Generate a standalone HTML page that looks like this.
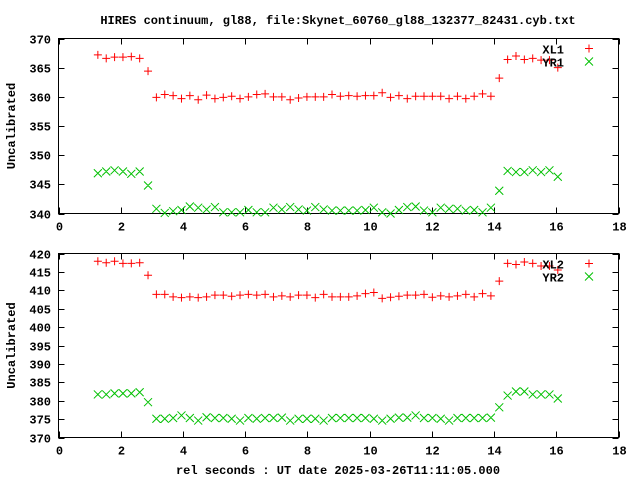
<!DOCTYPE html>
<html><head><meta charset="utf-8"><style>
body{margin:0;background:#fff}
svg text{font-family:"Liberation Mono",monospace;font-weight:bold;font-size:12px;fill:#000}
</style></head><body>
<svg id="chart" width="640" height="480" xmlns="http://www.w3.org/2000/svg">
<text x="338" y="24" text-anchor="middle">HIRES continuum, gl88, file:Skynet_60760_gl88_132377_82431.cyb.txt</text>
<text x="338" y="474" text-anchor="middle">rel seconds : UT date 2025-03-26T11:11:05.000</text>
<g id="p1"></g>
<g id="p2"></g>
</svg>
<script>
const tStart = 1.265, tStep = 0.2688;
const xTicks = [0,2,4,6,8,10,12,14,16,18];
const xl1 = [367.2,366.6,366.8,366.8,366.9,366.6,364.4,359.9,360.4,360.2,359.7,360.2,359.5,360.3,359.7,359.9,360.1,359.7,360.0,360.4,360.5,360.0,360.0,359.5,359.8,360.0,360.0,360.0,360.4,360.1,360.2,360.1,360.2,360.2,360.7,359.9,360.2,359.7,360.1,360.1,360.1,360.1,359.7,360.1,359.7,360.1,360.5,360.1,363.2,366.4,367.0,366.4,366.6,366.3,366.3,365.0];
const yr1 = [346.9,347.2,347.4,347.2,346.8,347.2,344.8,340.8,340.1,340.4,340.6,341.2,341.0,340.7,341.1,340.2,340.2,340.2,340.6,340.2,340.2,341.0,340.7,341.1,340.7,340.5,341.1,340.7,340.5,340.5,340.5,340.5,340.6,341.0,340.2,340.0,340.6,341.1,341.2,340.5,340.2,341.0,340.8,340.8,340.5,340.6,340.2,341.0,343.9,347.3,347.1,347.1,347.4,347.1,347.4,346.3];
const xl2 = [417.9,417.5,417.9,417.3,417.3,417.5,414.1,408.9,408.9,408.2,408.0,408.2,408.0,408.2,408.7,408.7,408.4,408.7,408.9,408.7,408.9,408.2,408.5,408.2,408.7,408.7,408.0,408.9,408.2,408.2,408.2,408.5,409.1,409.4,407.8,408.1,408.4,408.7,408.7,408.9,408.1,408.5,408.2,408.5,408.9,408.2,409.1,408.5,412.5,417.3,417.0,417.7,417.3,416.6,416.6,415.5];
const yr2 = [381.7,381.7,382.0,382.0,382.0,382.3,379.6,375.1,375.1,375.3,376.0,375.3,374.6,375.5,375.3,375.3,375.1,374.6,375.3,375.1,375.3,375.3,375.4,374.6,375.1,375.1,375.1,374.6,375.3,375.3,375.3,375.3,375.3,375.1,374.6,375.1,375.4,375.4,376.0,375.3,375.3,375.1,374.6,375.3,375.3,375.3,375.3,375.4,378.2,381.4,382.5,382.5,381.7,381.7,381.7,380.6];
const ticks1 = [340,345,350,355,360,365,370];
const ticks2 = [370,375,380,385,390,395,400,405,410,415,420];
const NS="http://www.w3.org/2000/svg";
const L=58.5,R=618.5;
function mk(p,tag,a){const e=document.createElementNS(NS,tag);for(const k in a)e.setAttribute(k,a[k]);p.appendChild(e);return e;}
function panel(g,top,bot,ymin,ymax,yt,s1,s2,n1,n2,name1,name2){
  const xs=t=>L+(t-0)/18*(R-L);
  const ys=v=>bot-(v-ymin)/(ymax-ymin)*(bot-top);
  const f=mk(g,'rect',{x:L,y:top,width:R-L,height:bot-top,fill:'none',stroke:'#000','stroke-width':1});
  
  
  yt.forEach(v=>{const y=Math.round(ys(v))+0.5;
    mk(g,'path',{d:`M${L},${y}h6M${R},${y}h-6`,stroke:'#000'});
    const t=mk(g,'text',{x:51,y:y+4,'text-anchor':'end'});t.textContent=v;
    
    });
  xTicks.forEach(v=>{const x=Math.round(xs(v))+0.5;
    mk(g,'path',{d:`M${x},${bot}v-6M${x},${top}v6`,stroke:'#000'});
    const t=mk(g,'text',{x:x,y:bot+17,'text-anchor':'middle'});t.textContent=v;
    
    });
  const yl=mk(g,'text',{x:0,y:0,'text-anchor':'middle',transform:`translate(15,${(top+bot)/2}) rotate(-90)`});yl.textContent='Uncalibrated';
  
  
  const plus=(x,y)=>`M${x-4},${y}h8M${x},${y-4}v8`;
  const cross=(x,y)=>`M${x-4},${y-4}l8,8M${x-4},${y+4}l8,-8`;
  let d1='',d2='';
  s1.forEach((v,i)=>{d1+=plus(xs(tStart+i*tStep),ys(v));});
  s2.forEach((v,i)=>{d2+=cross(xs(tStart+i*tStep),ys(v));});
  const a=mk(g,'path',{d:d2,stroke:'#00c000','stroke-width':1,fill:'none'});
  
  
  const b=mk(g,'path',{d:d1,stroke:'#ff0000','stroke-width':1,fill:'none'});
  
  
  const t1=mk(g,'text',{x:564,y:top+15,'text-anchor':'end'});t1.textContent=n1;
  
  
  mk(g,'path',{d:plus(589,top+10),stroke:'#ff0000'});
  const t2=mk(g,'text',{x:564,y:top+28,'text-anchor':'end'});t2.textContent=n2;
  
  
  mk(g,'path',{d:cross(589,top+23),stroke:'#00c000'});
}
panel(document.getElementById('p1'),38.5,213.5,340,370,ticks1,xl1,yr1,'XL1','YR1','xl1','yr1');
panel(document.getElementById('p2'),253.5,437.5,370,420,ticks2,xl2,yr2,'XL2','YR2','xl2','yr2');
</script>
</body></html>
